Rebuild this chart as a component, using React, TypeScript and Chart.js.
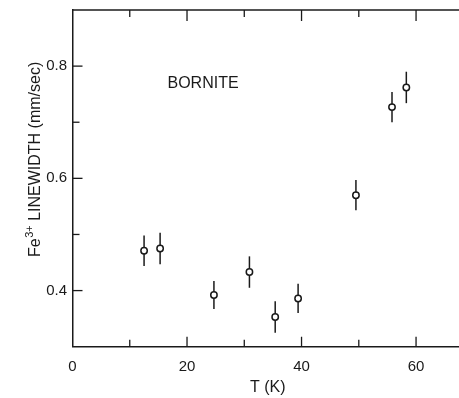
import React, { useEffect, useRef } from 'react';
import { Chart, registerables } from 'chart.js';

Chart.register(...registerables);

// Fe3+ Mössbauer linewidth of bornite against temperature
const temperatureK = [12.5, 15.3, 24.7, 30.9, 35.4, 39.4, 49.5, 55.8, 58.3];
const linewidthMmSec = [0.471, 0.475, 0.392, 0.433, 0.353, 0.386, 0.57, 0.727, 0.762];
const linewidthError = [0.027, 0.028, 0.025, 0.028, 0.028, 0.026, 0.027, 0.027, 0.028];

// axis ticks: every value gets a tick mark, only some get a label
const xTickValues = [10, 20, 30, 40, 50, 60];
const xLabelValues = [0, 20, 40, 60];
const yTickValues = [0.4, 0.5, 0.6, 0.7, 0.8];
const yLabelValues = [0.4, 0.6, 0.8];

const sampleLabel = 'BORNITE';
const sampleLabelAt = { x: 22.8, y: 0.768 };
const xTitle = 'T (K)';
const yTitleParts = ['Fe', '3+', ' LINEWIDTH (mm/sec)'];

const INK = '#1a1a1a';
const FONT = '"Liberation Sans", Arial, Helvetica, sans-serif';

const framePlugin = {
  id: 'frame',
  beforeDatasetsDraw(chart: any) {
    const { ctx, scales } = chart;
    const x = scales.x;
    const y = scales.y;
    ctx.save();
    ctx.strokeStyle = INK;
    ctx.lineWidth = 1.5;
    temperatureK.forEach((t, i) => {
      const px = x.getPixelForValue(t);
      ctx.beginPath();
      ctx.moveTo(px, y.getPixelForValue(linewidthMmSec[i] + linewidthError[i]));
      ctx.lineTo(px, y.getPixelForValue(linewidthMmSec[i] - linewidthError[i]));
      ctx.stroke();
    });
    ctx.restore();
  },
  afterDraw(chart: any) {
    const { ctx, chartArea: a, scales } = chart;
    const x = scales.x;
    const y = scales.y;
    ctx.save();
    ctx.strokeStyle = INK;
    ctx.lineWidth = 1.5;
    // top frame line
    ctx.beginPath();
    ctx.moveTo(a.left, a.top);
    ctx.lineTo(a.right, a.top);
    ctx.stroke();

    // inward tick marks
    ctx.lineWidth = 1.3;
    xTickValues.forEach((v) => {
      const px = x.getPixelForValue(v);
      const major = xLabelValues.includes(v);
      ctx.beginPath();
      ctx.moveTo(px, a.bottom);
      ctx.lineTo(px, a.bottom - (major ? 10 : 7));
      ctx.moveTo(px, a.top);
      ctx.lineTo(px, a.top + (major ? 11 : 7));
      ctx.stroke();
    });
    yTickValues.forEach((v) => {
      const py = y.getPixelForValue(v);
      const major = yLabelValues.includes(v);
      ctx.beginPath();
      ctx.moveTo(a.left, py);
      ctx.lineTo(a.left + (major ? 10 : 7), py);
      ctx.stroke();
    });

    ctx.fillStyle = INK;

    // sample name inside the plot
    ctx.font = `16px ${FONT}`;
    ctx.textAlign = 'center';
    ctx.textBaseline = 'middle';
    ctx.fillText(sampleLabel, x.getPixelForValue(sampleLabelAt.x), y.getPixelForValue(sampleLabelAt.y));

    // x axis title
    ctx.fillText(xTitle, (a.left + a.right) / 2 + 2, chart.height - 10);

    // y axis title with superscript charge
    ctx.translate(40, 257);
    ctx.rotate(-Math.PI / 2);
    ctx.textAlign = 'left';
    ctx.textBaseline = 'alphabetic';
    ctx.font = `16px ${FONT}`;
    ctx.fillText(yTitleParts[0], 0, 0);
    let offset = ctx.measureText(yTitleParts[0]).width + 0.5;
    ctx.font = `11px ${FONT}`;
    ctx.fillText(yTitleParts[1], offset, -7);
    offset += ctx.measureText(yTitleParts[1]).width;
    ctx.font = `16px ${FONT}`;
    ctx.fillText(yTitleParts[2], offset, 0);
    ctx.restore();
  },
};

export default function App() {
  const canvasRef = useRef<HTMLCanvasElement>(null);

  useEffect(() => {
    if (!canvasRef.current) return;
    const chart = new Chart(canvasRef.current, {
      type: 'scatter',
      data: {
        datasets: [
          {
            data: temperatureK.map((t, i) => ({ x: t, y: linewidthMmSec[i] })),
            pointStyle: 'circle',
            pointRadius: 3.2,
            pointHoverRadius: 3.2,
            borderWidth: 1.5,
            borderColor: INK,
            backgroundColor: '#ffffff',
          },
        ],
      },
      options: {
        responsive: false,
        animation: false,
        events: [],
        layout: { autoPadding: false, padding: { top: 10, right: 0, bottom: 0, left: 0 } },
        plugins: { legend: { display: false }, tooltip: { enabled: false } },
        scales: {
          x: {
            type: 'linear',
            min: 0,
            max: 67.5,
            afterFit: (s: any) => {
              s.height = 51.3;
              s.paddingLeft = 0;
              s.paddingRight = 0;
            },
            afterBuildTicks: (s: any) => {
              s.ticks = xLabelValues.map((v) => ({ value: v }));
            },
            ticks: {
              color: INK,
              font: { family: FONT, size: 15 },
              padding: 11,
              maxRotation: 0,
              autoSkip: false,
              callback: (v: any) => String(v),
            },
            grid: { display: false, drawTicks: false },
            border: { display: true, color: INK, width: 1.5 },
          },
          y: {
            type: 'linear',
            min: 0.3,
            max: 0.9,
            afterFit: (s: any) => {
              s.width = 72.5;
              s.paddingTop = 0;
              s.paddingBottom = 0;
            },
            afterBuildTicks: (s: any) => {
              s.ticks = yLabelValues.map((v) => ({ value: v }));
            },
            ticks: {
              color: INK,
              font: { family: FONT, size: 15 },
              padding: 5.5,
              autoSkip: false,
              callback: (v: any) => Number(v).toFixed(1),
            },
            grid: { display: false, drawTicks: false },
            border: { display: true, color: INK, width: 1.5 },
          },
        },
      },
      plugins: [framePlugin],
    });
    return () => chart.destroy();
  }, []);

  return (
    <div style={{ position: 'absolute', left: 0, top: 0, width: 459, height: 398, background: '#fff' }}>
      <canvas ref={canvasRef} width={459} height={398} />
    </div>
  );
}
